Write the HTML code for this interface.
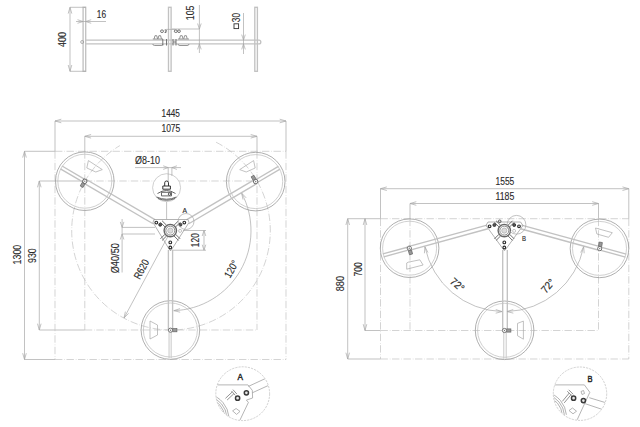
<!DOCTYPE html>
<html><head><meta charset="utf-8"><style>
html,body{margin:0;padding:0;background:#fff;width:640px;height:427px;overflow:hidden}
svg{display:block}
text{font-family:"Liberation Sans",sans-serif}
</style></head><body>
<svg width="640" height="427" viewBox="0 0 640 427">
<rect width="640" height="427" fill="#fff"/>
<rect x="83.10" y="7.3" width="2.6" height="64.00" stroke="#c2c2c2" stroke-width="1.35" fill="none"/>
<rect x="168.50" y="7.3" width="2.6" height="64.00" stroke="#c2c2c2" stroke-width="1.35" fill="none"/>
<rect x="254.80" y="7.3" width="2.6" height="64.00" stroke="#c2c2c2" stroke-width="1.35" fill="none"/>
<path d="M85.7,40.1 H259 Q260.8,40.1 260.8,42 Q260.8,43.9 259,43.9 H85.7" stroke="#c2c2c2" stroke-width="1.35" fill="none"/>
<circle cx="82.20" cy="42.00" r="1.50" stroke="#9a9a9a" stroke-width="0.8" fill="none"/>
<line x1="70.00" y1="7.30" x2="70.00" y2="71.30" stroke="#a8a8a8" stroke-width="0.7" fill="none"/>
<polyline points="71.80,13.60 70.00,7.30 68.20,13.60" stroke="#a8a8a8" stroke-width="0.7" fill="none"/>
<polyline points="68.20,65.00 70.00,71.30 71.80,65.00" stroke="#a8a8a8" stroke-width="0.7" fill="none"/>
<line x1="70.00" y1="7.30" x2="86.00" y2="7.30" stroke="#a8a8a8" stroke-width="0.7" fill="none"/>
<line x1="70.00" y1="71.30" x2="86.00" y2="71.30" stroke="#a8a8a8" stroke-width="0.7" fill="none"/>
<text transform="translate(62.30,39.50) rotate(-90)" x="0" y="3.76" text-anchor="middle" font-size="10.6" font-weight="normal" fill="#2a2a2a" stroke="#2a2a2a" stroke-width="0.12" textLength="15.00" lengthAdjust="spacingAndGlyphs">400</text>
<line x1="76.00" y1="21.50" x2="106.00" y2="21.50" stroke="#a8a8a8" stroke-width="0.7" fill="none"/>
<polyline points="77.50,23.30 83.00,21.50 77.50,19.70" stroke="#a8a8a8" stroke-width="0.7" fill="none"/>
<polyline points="91.20,19.70 85.70,21.50 91.20,23.30" stroke="#a8a8a8" stroke-width="0.7" fill="none"/>
<text transform="translate(101.50,13.80) rotate(0)" x="0" y="3.76" text-anchor="middle" font-size="10.6" font-weight="normal" fill="#2a2a2a" stroke="#2a2a2a" stroke-width="0.12" textLength="9.30" lengthAdjust="spacingAndGlyphs">16</text>
<line x1="199.40" y1="5.00" x2="199.40" y2="53.00" stroke="#a8a8a8" stroke-width="0.7" fill="none"/>
<polyline points="197.60,23.50 199.40,29.00 201.20,23.50" stroke="#a8a8a8" stroke-width="0.7" fill="none"/>
<polyline points="201.20,49.40 199.40,43.90 197.60,49.40" stroke="#a8a8a8" stroke-width="0.7" fill="none"/>
<line x1="172.00" y1="29.00" x2="199.40" y2="29.00" stroke="#a8a8a8" stroke-width="0.7" fill="none"/>
<text transform="translate(190.10,12.85) rotate(-90)" x="0" y="3.76" text-anchor="middle" font-size="10.6" font-weight="normal" fill="#2a2a2a" stroke="#2a2a2a" stroke-width="0.12" textLength="14.70" lengthAdjust="spacingAndGlyphs">105</text>
<line x1="243.50" y1="13.00" x2="243.50" y2="54.00" stroke="#a8a8a8" stroke-width="0.7" fill="none"/>
<polyline points="241.70,34.60 243.50,40.10 245.30,34.60" stroke="#a8a8a8" stroke-width="0.7" fill="none"/>
<polyline points="245.30,49.40 243.50,43.90 241.70,49.40" stroke="#a8a8a8" stroke-width="0.7" fill="none"/>
<text transform="translate(236.30,17.50) rotate(-90)" x="0" y="3.76" text-anchor="middle" font-size="10.6" font-weight="normal" fill="#2a2a2a" stroke="#2a2a2a" stroke-width="0.12" textLength="9.30" lengthAdjust="spacingAndGlyphs">30</text>
<rect x="234" y="23.8" width="4.6" height="4.8" stroke="#333" stroke-width="0.9" fill="none"/>
<path d="M152.8,39 H163 M152.8,44 Q152.8,45.5 154.8,45.5 H161 Q163,45.5 163,44" stroke="#8a8a8a" stroke-width="0.9" fill="none"/>
<path d="M154.16000000000003,38.8 L154.96,35.7 H156.76000000000002 L157.56,38.8" stroke="#777" stroke-width="0.8" fill="none"/>
<path d="M158.036,38.8 L158.83599999999998,35.7 H160.636 L161.43599999999998,38.8" stroke="#777" stroke-width="0.8" fill="none"/>
<path d="M178,39 H189 M178,44 Q178,45.5 180,45.5 H187 Q189,45.5 189,44" stroke="#8a8a8a" stroke-width="0.9" fill="none"/>
<path d="M179.60000000000002,38.8 L180.4,35.7 H182.20000000000002 L183.0,38.8" stroke="#777" stroke-width="0.8" fill="none"/>
<path d="M183.78,38.8 L184.57999999999998,35.7 H186.38 L187.17999999999998,38.8" stroke="#777" stroke-width="0.8" fill="none"/>
<path d="M162.8,39 V45.5 M166.5,39 V45.5 M173,39 V45.5 M176,39 V45.5 M173,42 H176" stroke="#6a6a6a" stroke-width="0.9" fill="none"/>
<line x1="166.00" y1="29.40" x2="175.00" y2="29.40" stroke="#a8a8a8" stroke-width="0.7" fill="none"/>
<g stroke="#555" stroke-width="0.8" fill="none"><ellipse cx="162" cy="31.2" rx="1.5" ry="1.3"/><path d="M164.6,30 q1.8,-0.5 1.8,0.6 q0,0.6 -1,0.6 q1.1,0 1.1,0.7 q0,1 -1.9,0.6"/></g>
<g stroke="#555" stroke-width="0.8" fill="none"><ellipse cx="175.8" cy="31.2" rx="1.5" ry="1.3"/><ellipse cx="179" cy="31.2" rx="1.4" ry="1.3"/></g>
<line x1="24.50" y1="151.30" x2="55.00" y2="151.30" stroke="#a8a8a8" stroke-width="0.7" fill="none"/>
<line x1="55.00" y1="151.30" x2="286.00" y2="151.30" stroke="#c2c2c2" stroke-width="0.7" fill="none" stroke-dasharray="7.4 1.9 0.6 1.6"/>
<line x1="39.30" y1="181.00" x2="84.80" y2="181.00" stroke="#a8a8a8" stroke-width="0.7" fill="none"/>
<line x1="84.80" y1="181.00" x2="257.00" y2="181.00" stroke="#c2c2c2" stroke-width="0.7" fill="none" stroke-dasharray="7.4 1.9 0.6 1.6"/>
<line x1="39.30" y1="330.00" x2="84.80" y2="330.00" stroke="#a8a8a8" stroke-width="0.7" fill="none"/>
<line x1="84.80" y1="330.00" x2="257.00" y2="330.00" stroke="#c2c2c2" stroke-width="0.7" fill="none" stroke-dasharray="7.4 1.9 0.6 1.6"/>
<line x1="24.50" y1="359.50" x2="55.00" y2="359.50" stroke="#a8a8a8" stroke-width="0.7" fill="none"/>
<line x1="55.00" y1="359.50" x2="286.00" y2="359.50" stroke="#c2c2c2" stroke-width="0.7" fill="none" stroke-dasharray="7.4 1.9 0.6 1.6"/>
<line x1="55.00" y1="121.00" x2="55.00" y2="151.30" stroke="#a8a8a8" stroke-width="0.7" fill="none"/>
<line x1="286.00" y1="121.00" x2="286.00" y2="151.30" stroke="#a8a8a8" stroke-width="0.7" fill="none"/>
<line x1="84.80" y1="136.30" x2="84.80" y2="151.30" stroke="#a8a8a8" stroke-width="0.7" fill="none"/>
<line x1="257.00" y1="136.30" x2="257.00" y2="151.30" stroke="#a8a8a8" stroke-width="0.7" fill="none"/>
<line x1="55.00" y1="151.30" x2="55.00" y2="359.50" stroke="#c2c2c2" stroke-width="0.7" fill="none" stroke-dasharray="7.4 1.9 0.6 1.6"/>
<line x1="286.00" y1="151.30" x2="286.00" y2="359.50" stroke="#c2c2c2" stroke-width="0.7" fill="none" stroke-dasharray="7.4 1.9 0.6 1.6"/>
<line x1="84.80" y1="151.30" x2="84.80" y2="330.00" stroke="#c2c2c2" stroke-width="0.7" fill="none" stroke-dasharray="7.4 1.9 0.6 1.6"/>
<line x1="257.00" y1="151.30" x2="257.00" y2="330.00" stroke="#c2c2c2" stroke-width="0.7" fill="none" stroke-dasharray="7.4 1.9 0.6 1.6"/>
<line x1="55.00" y1="121.00" x2="286.00" y2="121.00" stroke="#a8a8a8" stroke-width="0.7" fill="none"/>
<polyline points="61.30,119.20 55.00,121.00 61.30,122.80" stroke="#a8a8a8" stroke-width="0.7" fill="none"/>
<polyline points="279.70,122.80 286.00,121.00 279.70,119.20" stroke="#a8a8a8" stroke-width="0.7" fill="none"/>
<text transform="translate(170.70,113.15) rotate(0)" x="0" y="3.76" text-anchor="middle" font-size="10.6" font-weight="normal" fill="#2a2a2a" stroke="#2a2a2a" stroke-width="0.12" textLength="18.30" lengthAdjust="spacingAndGlyphs">1445</text>
<line x1="84.80" y1="136.30" x2="257.00" y2="136.30" stroke="#a8a8a8" stroke-width="0.7" fill="none"/>
<polyline points="91.10,134.50 84.80,136.30 91.10,138.10" stroke="#a8a8a8" stroke-width="0.7" fill="none"/>
<polyline points="250.70,138.10 257.00,136.30 250.70,134.50" stroke="#a8a8a8" stroke-width="0.7" fill="none"/>
<text transform="translate(170.85,128.55) rotate(0)" x="0" y="3.76" text-anchor="middle" font-size="10.6" font-weight="normal" fill="#2a2a2a" stroke="#2a2a2a" stroke-width="0.12" textLength="18.90" lengthAdjust="spacingAndGlyphs">1075</text>
<line x1="24.50" y1="151.30" x2="24.50" y2="359.50" stroke="#a8a8a8" stroke-width="0.7" fill="none"/>
<polyline points="26.30,157.60 24.50,151.30 22.70,157.60" stroke="#a8a8a8" stroke-width="0.7" fill="none"/>
<polyline points="22.70,353.20 24.50,359.50 26.30,353.20" stroke="#a8a8a8" stroke-width="0.7" fill="none"/>
<text transform="translate(16.85,254.60) rotate(-90)" x="0" y="3.76" text-anchor="middle" font-size="10.6" font-weight="normal" fill="#2a2a2a" stroke="#2a2a2a" stroke-width="0.12" textLength="19.60" lengthAdjust="spacingAndGlyphs">1300</text>
<line x1="39.30" y1="181.00" x2="39.30" y2="330.00" stroke="#a8a8a8" stroke-width="0.7" fill="none"/>
<polyline points="41.10,187.30 39.30,181.00 37.50,187.30" stroke="#a8a8a8" stroke-width="0.7" fill="none"/>
<polyline points="37.50,323.70 39.30,330.00 41.10,323.70" stroke="#a8a8a8" stroke-width="0.7" fill="none"/>
<text transform="translate(32.20,255.60) rotate(-90)" x="0" y="3.76" text-anchor="middle" font-size="10.6" font-weight="normal" fill="#2a2a2a" stroke="#2a2a2a" stroke-width="0.12" textLength="14.70" lengthAdjust="spacingAndGlyphs">930</text>
<path d="M216.08,142.22 A99.30,99.30 0 1 1 119.86,145.58" stroke="#c2c2c2" stroke-width="0.7" fill="none" stroke-dasharray="7.4 1.9 0.6 1.6"/>
<path d="M241.64,193.14 A80.00,80.00 0 0 1 173.79,310.65" stroke="#a8a8a8" stroke-width="0.7" fill="none"/>
<polyline points="246.18,197.86 241.64,193.14 243.00,199.55" stroke="#a8a8a8" stroke-width="0.7" fill="none"/>
<polyline points="180.03,308.63 173.79,310.65 180.15,312.23" stroke="#a8a8a8" stroke-width="0.7" fill="none"/>
<text transform="translate(231.20,269.00) rotate(-60)" x="0" y="3.76" text-anchor="middle" font-size="10.6" font-weight="normal" fill="#2a2a2a" stroke="#2a2a2a" stroke-width="0.12" textLength="18.00" lengthAdjust="spacingAndGlyphs">120°</text>
<line x1="171.00" y1="230.70" x2="124.00" y2="318.00" stroke="#a8a8a8" stroke-width="0.7" fill="none"/>
<polyline points="125.40,311.60 124.00,318.00 128.57,313.31" stroke="#a8a8a8" stroke-width="0.7" fill="none"/>
<text transform="translate(141.30,269.10) rotate(-62)" x="0" y="3.76" text-anchor="middle" font-size="10.6" font-weight="normal" fill="#2a2a2a" stroke="#2a2a2a" stroke-width="0.12" textLength="20.50" lengthAdjust="spacingAndGlyphs">R620</text>
<line x1="122.10" y1="219.00" x2="122.10" y2="272.50" stroke="#a8a8a8" stroke-width="0.7" fill="none"/>
<polyline points="120.30,221.90 122.10,227.40 123.90,221.90" stroke="#a8a8a8" stroke-width="0.7" fill="none"/>
<polyline points="123.90,239.50 122.10,234.00 120.30,239.50" stroke="#a8a8a8" stroke-width="0.7" fill="none"/>
<line x1="122.10" y1="227.40" x2="155.00" y2="227.40" stroke="#a8a8a8" stroke-width="0.7" fill="none"/>
<line x1="122.10" y1="234.00" x2="155.00" y2="234.00" stroke="#a8a8a8" stroke-width="0.7" fill="none"/>
<text transform="translate(115.00,258.20) rotate(-90)" x="0" y="3.76" text-anchor="middle" font-size="10.6" font-weight="normal" fill="#2a2a2a" stroke="#2a2a2a" stroke-width="0.12" textLength="30.30" lengthAdjust="spacingAndGlyphs">Ø40/50</text>
<line x1="204.00" y1="230.50" x2="204.00" y2="250.20" stroke="#a8a8a8" stroke-width="0.7" fill="none"/>
<polyline points="205.80,236.00 204.00,230.50 202.20,236.00" stroke="#a8a8a8" stroke-width="0.7" fill="none"/>
<polyline points="202.20,244.70 204.00,250.20 205.80,244.70" stroke="#a8a8a8" stroke-width="0.7" fill="none"/>
<line x1="183.00" y1="230.50" x2="206.00" y2="230.50" stroke="#a8a8a8" stroke-width="0.7" fill="none"/>
<line x1="172.00" y1="250.20" x2="206.00" y2="250.20" stroke="#a8a8a8" stroke-width="0.7" fill="none"/>
<text transform="translate(195.10,240.20) rotate(-90)" x="0" y="3.76" text-anchor="middle" font-size="10.6" font-weight="normal" fill="#2a2a2a" stroke="#2a2a2a" stroke-width="0.12" textLength="14.00" lengthAdjust="spacingAndGlyphs">120</text>
<circle cx="84.80" cy="181.20" r="29.30" stroke="#9a9a9a" stroke-width="0.8" fill="none"/>
<circle cx="84.80" cy="181.20" r="27.00" stroke="#bcbcbc" stroke-width="0.7" fill="none"/>
<circle cx="255.70" cy="181.60" r="29.30" stroke="#9a9a9a" stroke-width="0.8" fill="none"/>
<circle cx="255.70" cy="181.60" r="27.00" stroke="#bcbcbc" stroke-width="0.7" fill="none"/>
<circle cx="170.40" cy="330.00" r="29.30" stroke="#9a9a9a" stroke-width="0.8" fill="none"/>
<circle cx="170.40" cy="330.00" r="27.00" stroke="#bcbcbc" stroke-width="0.7" fill="none"/>
<line x1="155.36" y1="219.81" x2="85.96" y2="179.21" stroke="#c2c2c2" stroke-width="1.35" fill="none"/>
<line x1="153.04" y1="223.79" x2="83.64" y2="183.19" stroke="#c2c2c2" stroke-width="1.35" fill="none"/>
<line x1="85.61" y1="179.82" x2="62.04" y2="166.03" stroke="#c2c2c2" stroke-width="1.35" fill="none"/>
<line x1="83.99" y1="182.58" x2="60.43" y2="168.80" stroke="#c2c2c2" stroke-width="1.35" fill="none"/>
<line x1="188.77" y1="223.78" x2="256.87" y2="183.58" stroke="#c2c2c2" stroke-width="1.35" fill="none"/>
<line x1="186.43" y1="219.82" x2="254.53" y2="179.62" stroke="#c2c2c2" stroke-width="1.35" fill="none"/>
<line x1="256.51" y1="182.98" x2="280.02" y2="169.10" stroke="#c2c2c2" stroke-width="1.35" fill="none"/>
<line x1="254.89" y1="180.22" x2="278.40" y2="166.34" stroke="#c2c2c2" stroke-width="1.35" fill="none"/>
<line x1="168.40" y1="250.00" x2="168.40" y2="330.00" stroke="#c2c2c2" stroke-width="1.35" fill="none"/>
<line x1="172.60" y1="250.00" x2="172.60" y2="330.00" stroke="#c2c2c2" stroke-width="1.35" fill="none"/>
<line x1="169.05" y1="330.00" x2="169.05" y2="358.00" stroke="#c8c8c8" stroke-width="1" fill="none"/>
<line x1="171.15" y1="330.00" x2="171.15" y2="358.00" stroke="#c8c8c8" stroke-width="1" fill="none"/>
<polygon points="154.00,219.50 188.00,219.50 189.00,222.50 171.00,250.50 170.00,250.50 153.00,222.50" stroke="#a0a0a0" stroke-width="0.8" fill="none"/>
<line x1="166.66" y1="225.33" x2="162.06" y2="220.74" stroke="#707070" stroke-width="1" fill="none"/>
<line x1="165.03" y1="226.96" x2="160.44" y2="222.36" stroke="#707070" stroke-width="1" fill="none"/>
<line x1="175.57" y1="226.96" x2="180.16" y2="222.36" stroke="#707070" stroke-width="1" fill="none"/>
<line x1="173.94" y1="225.33" x2="178.54" y2="220.74" stroke="#707070" stroke-width="1" fill="none"/>
<line x1="173.94" y1="235.87" x2="178.54" y2="240.46" stroke="#707070" stroke-width="1" fill="none"/>
<line x1="175.57" y1="234.24" x2="180.16" y2="238.84" stroke="#707070" stroke-width="1" fill="none"/>
<line x1="165.03" y1="234.24" x2="160.44" y2="238.84" stroke="#707070" stroke-width="1" fill="none"/>
<line x1="166.66" y1="235.87" x2="162.06" y2="240.46" stroke="#707070" stroke-width="1" fill="none"/>
<circle cx="170.3" cy="230.6" r="6.2" fill="#fff" stroke="#666" stroke-width="1.4"/>
<circle cx="170.3" cy="230.6" r="4.5" fill="none" stroke="#888" stroke-width="1"/>
<circle cx="170.3" cy="230.6" r="2.6" fill="#dcdcdc" stroke="#aaa" stroke-width="0.7"/>
<circle cx="160.20" cy="224.70" r="1.5" fill="#555" stroke="#333" stroke-width="0.9"/>
<circle cx="180.40" cy="224.70" r="1.5" fill="#555" stroke="#333" stroke-width="0.9"/>
<circle cx="180.10" cy="230.90" r="1.50" stroke="#aaa" stroke-width="0.7" fill="none"/>
<circle cx="156.30" cy="222.60" r="1.35" stroke="#2c2c2c" stroke-width="1.15" fill="none"/>
<circle cx="184.30" cy="222.60" r="1.35" stroke="#2c2c2c" stroke-width="1.15" fill="none"/>
<circle cx="170.30" cy="242.40" r="1.35" stroke="#2c2c2c" stroke-width="1.15" fill="none"/>
<circle cx="170.30" cy="247.50" r="1.35" stroke="#2c2c2c" stroke-width="1.15" fill="none"/>
<circle cx="186.00" cy="221.50" r="8.00" stroke="#a8a8a8" stroke-width="0.7" fill="none"/>
<text transform="translate(184.80,211.00) rotate(0)" x="0" y="2.48" text-anchor="middle" font-size="7" font-weight="normal" fill="#2a2a2a" stroke="#2a2a2a" stroke-width="0.15" textLength="4.50" lengthAdjust="spacingAndGlyphs">A</text>
<text transform="translate(147.45,160.15) rotate(0)" x="0" y="3.76" text-anchor="middle" font-size="10.6" font-weight="normal" fill="#2a2a2a" stroke="#2a2a2a" stroke-width="0.12" textLength="24.90" lengthAdjust="spacingAndGlyphs">Ø8-10</text>
<line x1="135.00" y1="167.60" x2="181.00" y2="167.60" stroke="#a8a8a8" stroke-width="0.7" fill="none"/>
<polyline points="163.20,169.40 168.20,167.60 163.20,165.80" stroke="#a8a8a8" stroke-width="0.7" fill="none"/>
<polyline points="176.90,165.80 171.90,167.60 176.90,169.40" stroke="#a8a8a8" stroke-width="0.7" fill="none"/>
<circle cx="166.60" cy="187.70" r="14.00" stroke="#b0b0b0" stroke-width="0.6" fill="#fff"/>
<line x1="166.60" y1="201.70" x2="166.60" y2="219.50" stroke="#a8a8a8" stroke-width="0.7" fill="none"/>
<line x1="168.20" y1="167.60" x2="168.20" y2="182.00" stroke="#a8a8a8" stroke-width="0.7" fill="none"/>
<line x1="171.90" y1="167.60" x2="171.90" y2="176.00" stroke="#a8a8a8" stroke-width="0.7" fill="none"/>
<path d="M164.7,186 v-3.2 q0,-1.8 1.9,-1.8 q1.9,0 1.9,1.8 v3.2 M162.8,189.2 h7.6 v-3.2 h-7.6 z" stroke="#333" stroke-width="1" fill="none"/>
<path d="M157.5,193.5 Q166.5,187.5 175.5,193.5 M161.5,192.3 h10 v3.6 h-10 z M156.5,197 Q166.5,201.5 176.5,197 M158,198.5 Q166.5,202 175,198.5" stroke="#555" stroke-width="0.9" fill="none"/>
<circle cx="169.50" cy="194.10" r="1.20" stroke="#444" stroke-width="0.9" fill="none"/>
<polygon points="88.40,160.60 102.30,169.60 95.80,172.00 86.80,168.00" stroke="#a8a8a8" stroke-width="0.7" fill="none"/>
<polygon points="239.70,169.60 253.60,160.60 255.20,168.00 246.20,172.00" stroke="#a8a8a8" stroke-width="0.7" fill="none"/>
<polygon points="150.00,321.00 157.50,325.00 157.50,335.00 150.00,339.00" stroke="#a8a8a8" stroke-width="0.7" fill="none"/>
<g transform="translate(84.8,181.2) rotate(120)"><rect x="2.2" y="-1.6" width="4.2" height="3.2" fill="#999" stroke="#666" stroke-width="0.7"/><circle cx="0" cy="0" r="2.1" fill="#fff" stroke="#666" stroke-width="0.9"/><circle cx="0" cy="0" r="0.7" fill="#777"/></g>
<g transform="translate(255.7,181.6) rotate(-120)"><rect x="2.2" y="-1.6" width="4.2" height="3.2" fill="#999" stroke="#666" stroke-width="0.7"/><circle cx="0" cy="0" r="2.1" fill="#fff" stroke="#666" stroke-width="0.9"/><circle cx="0" cy="0" r="0.7" fill="#777"/></g>
<g transform="translate(170.5,330.2) rotate(0)"><rect x="2.2" y="-1.6" width="4.2" height="3.2" fill="#999" stroke="#666" stroke-width="0.7"/><circle cx="0" cy="0" r="2.1" fill="#fff" stroke="#666" stroke-width="0.9"/><circle cx="0" cy="0" r="0.7" fill="#777"/></g>
<line x1="347.70" y1="218.70" x2="380.50" y2="218.70" stroke="#a8a8a8" stroke-width="0.7" fill="none"/>
<line x1="380.50" y1="218.70" x2="628.80" y2="218.70" stroke="#c2c2c2" stroke-width="0.7" fill="none" stroke-dasharray="7.4 1.9 0.6 1.6"/>
<line x1="365.00" y1="330.50" x2="380.50" y2="330.50" stroke="#a8a8a8" stroke-width="0.7" fill="none"/>
<line x1="380.50" y1="330.50" x2="598.50" y2="330.50" stroke="#c2c2c2" stroke-width="0.7" fill="none" stroke-dasharray="7.4 1.9 0.6 1.6"/>
<line x1="347.70" y1="359.00" x2="380.50" y2="359.00" stroke="#a8a8a8" stroke-width="0.7" fill="none"/>
<line x1="380.50" y1="359.00" x2="628.80" y2="359.00" stroke="#c2c2c2" stroke-width="0.7" fill="none" stroke-dasharray="7.4 1.9 0.6 1.6"/>
<line x1="380.50" y1="188.70" x2="380.50" y2="218.70" stroke="#a8a8a8" stroke-width="0.7" fill="none"/>
<line x1="628.80" y1="188.70" x2="628.80" y2="218.70" stroke="#a8a8a8" stroke-width="0.7" fill="none"/>
<line x1="410.00" y1="203.50" x2="410.00" y2="218.70" stroke="#a8a8a8" stroke-width="0.7" fill="none"/>
<line x1="598.50" y1="203.50" x2="598.50" y2="218.70" stroke="#a8a8a8" stroke-width="0.7" fill="none"/>
<line x1="380.50" y1="218.70" x2="380.50" y2="359.00" stroke="#c2c2c2" stroke-width="0.7" fill="none" stroke-dasharray="7.4 1.9 0.6 1.6"/>
<line x1="628.80" y1="218.70" x2="628.80" y2="359.00" stroke="#c2c2c2" stroke-width="0.7" fill="none" stroke-dasharray="7.4 1.9 0.6 1.6"/>
<line x1="410.00" y1="218.70" x2="410.00" y2="330.50" stroke="#c2c2c2" stroke-width="0.7" fill="none" stroke-dasharray="7.4 1.9 0.6 1.6"/>
<line x1="598.50" y1="218.70" x2="598.50" y2="330.50" stroke="#c2c2c2" stroke-width="0.7" fill="none" stroke-dasharray="7.4 1.9 0.6 1.6"/>
<line x1="380.50" y1="188.70" x2="628.80" y2="188.70" stroke="#a8a8a8" stroke-width="0.7" fill="none"/>
<polyline points="386.80,186.90 380.50,188.70 386.80,190.50" stroke="#a8a8a8" stroke-width="0.7" fill="none"/>
<polyline points="622.50,190.50 628.80,188.70 622.50,186.90" stroke="#a8a8a8" stroke-width="0.7" fill="none"/>
<text transform="translate(504.90,181.00) rotate(0)" x="0" y="3.76" text-anchor="middle" font-size="10.6" font-weight="normal" fill="#2a2a2a" stroke="#2a2a2a" stroke-width="0.12" textLength="18.80" lengthAdjust="spacingAndGlyphs">1555</text>
<line x1="410.00" y1="203.50" x2="598.50" y2="203.50" stroke="#a8a8a8" stroke-width="0.7" fill="none"/>
<polyline points="416.30,201.70 410.00,203.50 416.30,205.30" stroke="#a8a8a8" stroke-width="0.7" fill="none"/>
<polyline points="592.20,205.30 598.50,203.50 592.20,201.70" stroke="#a8a8a8" stroke-width="0.7" fill="none"/>
<text transform="translate(504.90,196.10) rotate(0)" x="0" y="3.76" text-anchor="middle" font-size="10.6" font-weight="normal" fill="#2a2a2a" stroke="#2a2a2a" stroke-width="0.12" textLength="18.80" lengthAdjust="spacingAndGlyphs">1185</text>
<line x1="347.70" y1="218.70" x2="347.70" y2="359.00" stroke="#a8a8a8" stroke-width="0.7" fill="none"/>
<polyline points="349.50,225.00 347.70,218.70 345.90,225.00" stroke="#a8a8a8" stroke-width="0.7" fill="none"/>
<polyline points="345.90,352.70 347.70,359.00 349.50,352.70" stroke="#a8a8a8" stroke-width="0.7" fill="none"/>
<text transform="translate(340.20,283.60) rotate(-90)" x="0" y="3.76" text-anchor="middle" font-size="10.6" font-weight="normal" fill="#2a2a2a" stroke="#2a2a2a" stroke-width="0.12" textLength="15.20" lengthAdjust="spacingAndGlyphs">880</text>
<line x1="365.00" y1="218.70" x2="365.00" y2="330.50" stroke="#a8a8a8" stroke-width="0.7" fill="none"/>
<polyline points="366.80,225.00 365.00,218.70 363.20,225.00" stroke="#a8a8a8" stroke-width="0.7" fill="none"/>
<polyline points="363.20,324.20 365.00,330.50 366.80,324.20" stroke="#a8a8a8" stroke-width="0.7" fill="none"/>
<text transform="translate(357.90,269.45) rotate(-90)" x="0" y="3.76" text-anchor="middle" font-size="10.6" font-weight="normal" fill="#2a2a2a" stroke="#2a2a2a" stroke-width="0.12" textLength="14.30" lengthAdjust="spacingAndGlyphs">700</text>
<circle cx="409.60" cy="248.20" r="29.30" stroke="#9a9a9a" stroke-width="0.8" fill="none"/>
<circle cx="409.60" cy="248.20" r="27.00" stroke="#bcbcbc" stroke-width="0.7" fill="none"/>
<circle cx="599.50" cy="248.40" r="29.30" stroke="#9a9a9a" stroke-width="0.8" fill="none"/>
<circle cx="599.50" cy="248.40" r="27.00" stroke="#bcbcbc" stroke-width="0.7" fill="none"/>
<circle cx="504.60" cy="330.30" r="29.30" stroke="#9a9a9a" stroke-width="0.8" fill="none"/>
<circle cx="504.60" cy="330.30" r="27.00" stroke="#bcbcbc" stroke-width="0.7" fill="none"/>
<line x1="487.00" y1="225.07" x2="409.10" y2="246.37" stroke="#c2c2c2" stroke-width="1.35" fill="none"/>
<line x1="488.00" y1="228.73" x2="410.10" y2="250.03" stroke="#c2c2c2" stroke-width="1.35" fill="none"/>
<line x1="409.20" y1="246.75" x2="382.87" y2="253.95" stroke="#c2c2c2" stroke-width="1.35" fill="none"/>
<line x1="410.00" y1="249.65" x2="383.66" y2="256.85" stroke="#c2c2c2" stroke-width="1.35" fill="none"/>
<line x1="520.50" y1="228.73" x2="599.00" y2="250.23" stroke="#c2c2c2" stroke-width="1.35" fill="none"/>
<line x1="521.50" y1="225.07" x2="600.00" y2="246.57" stroke="#c2c2c2" stroke-width="1.35" fill="none"/>
<line x1="599.10" y1="249.85" x2="625.43" y2="257.06" stroke="#c2c2c2" stroke-width="1.35" fill="none"/>
<line x1="599.90" y1="246.95" x2="626.23" y2="254.16" stroke="#c2c2c2" stroke-width="1.35" fill="none"/>
<line x1="502.70" y1="250.00" x2="502.70" y2="330.00" stroke="#c2c2c2" stroke-width="1.35" fill="none"/>
<line x1="507.30" y1="250.00" x2="507.30" y2="330.00" stroke="#c2c2c2" stroke-width="1.35" fill="none"/>
<line x1="503.80" y1="330.00" x2="503.80" y2="359.00" stroke="#c8c8c8" stroke-width="1" fill="none"/>
<line x1="506.20" y1="330.00" x2="506.20" y2="359.00" stroke="#c8c8c8" stroke-width="1" fill="none"/>
<polygon points="488.00,222.00 520.50,222.00 523.00,225.50 505.00,250.30 504.00,250.30 486.00,225.50" stroke="#a0a0a0" stroke-width="0.8" fill="none"/>
<line x1="500.66" y1="225.33" x2="496.06" y2="220.74" stroke="#707070" stroke-width="1" fill="none"/>
<line x1="499.03" y1="226.96" x2="494.44" y2="222.36" stroke="#707070" stroke-width="1" fill="none"/>
<line x1="509.57" y1="226.96" x2="514.16" y2="222.36" stroke="#707070" stroke-width="1" fill="none"/>
<line x1="507.94" y1="225.33" x2="512.54" y2="220.74" stroke="#707070" stroke-width="1" fill="none"/>
<line x1="507.94" y1="235.87" x2="512.54" y2="240.46" stroke="#707070" stroke-width="1" fill="none"/>
<line x1="509.57" y1="234.24" x2="514.16" y2="238.84" stroke="#707070" stroke-width="1" fill="none"/>
<line x1="499.03" y1="234.24" x2="494.44" y2="238.84" stroke="#707070" stroke-width="1" fill="none"/>
<line x1="500.66" y1="235.87" x2="496.06" y2="240.46" stroke="#707070" stroke-width="1" fill="none"/>
<circle cx="504.3" cy="230.6" r="6.2" fill="#fff" stroke="#666" stroke-width="1.4"/>
<circle cx="504.3" cy="230.6" r="4.5" fill="none" stroke="#888" stroke-width="1"/>
<circle cx="504.3" cy="230.6" r="2.6" fill="#dcdcdc" stroke="#aaa" stroke-width="0.7"/>
<circle cx="494.40" cy="225.00" r="1.5" fill="#555" stroke="#333" stroke-width="0.9"/>
<circle cx="514.20" cy="225.00" r="1.5" fill="#555" stroke="#333" stroke-width="0.9"/>
<circle cx="514.10" cy="230.90" r="1.50" stroke="#aaa" stroke-width="0.7" fill="none"/>
<circle cx="489.60" cy="226.30" r="1.35" stroke="#2c2c2c" stroke-width="1.15" fill="none"/>
<circle cx="519.00" cy="226.30" r="1.35" stroke="#2c2c2c" stroke-width="1.15" fill="none"/>
<circle cx="504.30" cy="242.40" r="1.35" stroke="#2c2c2c" stroke-width="1.15" fill="none"/>
<circle cx="504.30" cy="247.50" r="1.35" stroke="#2c2c2c" stroke-width="1.15" fill="none"/>
<circle cx="499.70" cy="221.30" r="1.30" stroke="#555" stroke-width="1" fill="none"/>
<circle cx="516.50" cy="224.80" r="9.40" stroke="#a8a8a8" stroke-width="0.7" fill="none"/>
<text transform="translate(524.00,238.35) rotate(0)" x="0" y="2.48" text-anchor="middle" font-size="7" font-weight="normal" fill="#2a2a2a" stroke="#2a2a2a" stroke-width="0.15" textLength="4.00" lengthAdjust="spacingAndGlyphs">B</text>
<path d="M502.04,311.57 A81.00,81.00 0 0 1 424.93,246.75" stroke="#a8a8a8" stroke-width="0.7" fill="none"/>
<path d="M583.67,246.75 A81.00,81.00 0 0 1 506.99,311.56" stroke="#a8a8a8" stroke-width="0.7" fill="none"/>
<polyline points="427.95,252.56 424.93,246.75 424.42,253.28" stroke="#a8a8a8" stroke-width="0.7" fill="none"/>
<polyline points="495.69,313.19 502.04,311.57 495.79,309.59" stroke="#a8a8a8" stroke-width="0.7" fill="none"/>
<polyline points="584.18,253.28 583.67,246.75 580.65,252.56" stroke="#a8a8a8" stroke-width="0.7" fill="none"/>
<polyline points="513.22,309.55 506.99,311.56 513.34,313.15" stroke="#a8a8a8" stroke-width="0.7" fill="none"/>
<text transform="translate(457.40,284.60) rotate(42)" x="0" y="3.76" text-anchor="middle" font-size="10.6" font-weight="normal" fill="#2a2a2a" stroke="#2a2a2a" stroke-width="0.2" textLength="15.00" lengthAdjust="spacingAndGlyphs">72°</text>
<text transform="translate(547.90,285.80) rotate(-48)" x="0" y="3.76" text-anchor="middle" font-size="10.6" font-weight="normal" fill="#2a2a2a" stroke="#2a2a2a" stroke-width="0.2" textLength="15.00" lengthAdjust="spacingAndGlyphs">72°</text>
<polygon points="408.10,262.20 419.80,259.80 423.10,265.00 406.70,269.20 406.70,263.00" stroke="#a8a8a8" stroke-width="0.7" fill="none"/>
<polygon points="595.50,228.00 612.30,232.70 608.60,237.30 596.90,234.00" stroke="#a8a8a8" stroke-width="0.7" fill="none"/>
<polygon points="517.50,323.40 523.40,321.10 523.40,339.20 517.50,335.70" stroke="#a8a8a8" stroke-width="0.7" fill="none"/>
<g transform="translate(409.3,248.2) rotate(74)"><rect x="2.2" y="-1.6" width="4.2" height="3.2" fill="#999" stroke="#666" stroke-width="0.7"/><circle cx="0" cy="0" r="2.1" fill="#fff" stroke="#666" stroke-width="0.9"/><circle cx="0" cy="0" r="0.7" fill="#777"/></g>
<g transform="translate(599.7,248.6) rotate(-80)"><rect x="2.2" y="-1.6" width="4.2" height="3.2" fill="#999" stroke="#666" stroke-width="0.7"/><circle cx="0" cy="0" r="2.1" fill="#fff" stroke="#666" stroke-width="0.9"/><circle cx="0" cy="0" r="0.7" fill="#777"/></g>
<g transform="translate(504.5,330.5) rotate(0)"><rect x="2.2" y="-1.6" width="4.2" height="3.2" fill="#999" stroke="#666" stroke-width="0.7"/><circle cx="0" cy="0" r="2.1" fill="#fff" stroke="#666" stroke-width="0.9"/><circle cx="0" cy="0" r="0.7" fill="#777"/></g>
<defs><clipPath id="ca"><circle cx="242.7" cy="393.7" r="26.6"/></clipPath><clipPath id="cb"><circle cx="580" cy="393.7" r="26.4"/></clipPath></defs>
<circle cx="242.70" cy="393.70" r="26.90" stroke="#b4b4b4" stroke-width="0.6" fill="none" stroke-dasharray="2.2 1"/>
<g clip-path="url(#ca)">
<polyline points="210.00,384.90 247.90,384.90 252.30,390.30 252.60,398.00 246.40,400.10 248.40,402.40 239.50,421.00" stroke="#9c9c9c" stroke-width="0.75" fill="none"/>
<line x1="248.40" y1="386.40" x2="272.00" y2="375.50" stroke="#9c9c9c" stroke-width="0.75" fill="none"/>
<line x1="252.30" y1="392.80" x2="276.00" y2="382.00" stroke="#9c9c9c" stroke-width="0.75" fill="none"/>
<circle cx="246.40" cy="392.80" r="2.10" stroke="#3a3a3a" stroke-width="1.5" fill="#e8e8e8"/>
<circle cx="237.60" cy="398.20" r="2.10" stroke="#3a3a3a" stroke-width="1.5" fill="#e8e8e8"/>
<line x1="227.12" y1="400.07" x2="233.92" y2="393.67" stroke="#777" stroke-width="0.8" fill="none"/>
<line x1="225.48" y1="398.33" x2="232.28" y2="391.93" stroke="#777" stroke-width="0.8" fill="none"/>
<line x1="231.45" y1="390.96" x2="235.35" y2="395.36" stroke="#777" stroke-width="0.8" fill="none"/>
<line x1="232.95" y1="389.64" x2="236.85" y2="394.04" stroke="#777" stroke-width="0.8" fill="none"/>
<path d="M209.06,398.23 A21.50,21.50 0 0 1 224.92,417.13" stroke="#999" stroke-width="0.75" fill="none"/>
<path d="M209.58,396.30 A23.50,23.50 0 0 1 226.91,416.95" stroke="#999" stroke-width="0.75" fill="none"/>
<path d="M210.10,394.37 A25.50,25.50 0 0 1 228.90,416.78" stroke="#999" stroke-width="0.75" fill="none"/>
<polygon points="232.60,410.90 236.10,408.50 240.00,411.40 236.60,414.40" stroke="#9c9c9c" stroke-width="0.75" fill="none"/>
</g>
<text transform="translate(240.35,376.45) rotate(0)" x="0" y="3.27" text-anchor="middle" font-size="9.2" font-weight="normal" fill="#2a2a2a" stroke="#2a2a2a" stroke-width="0.45" textLength="5.50" lengthAdjust="spacingAndGlyphs">A</text>
<circle cx="580.00" cy="393.70" r="26.70" stroke="#b4b4b4" stroke-width="0.6" fill="none" stroke-dasharray="2.2 1"/>
<g clip-path="url(#cb)">
<polyline points="550.00,384.90 584.40,384.90 589.80,392.30 576.60,421.00" stroke="#9c9c9c" stroke-width="0.75" fill="none"/>
<line x1="589.30" y1="397.70" x2="610.00" y2="404.00" stroke="#9c9c9c" stroke-width="0.75" fill="none"/>
<line x1="584.90" y1="403.60" x2="610.00" y2="412.00" stroke="#9c9c9c" stroke-width="0.75" fill="none"/>
<circle cx="573.60" cy="398.20" r="2.10" stroke="#3a3a3a" stroke-width="1.5" fill="#e8e8e8"/>
<circle cx="583.40" cy="400.60" r="2.10" stroke="#3a3a3a" stroke-width="1.5" fill="#e8e8e8"/>
<line x1="564.22" y1="402.87" x2="571.12" y2="394.57" stroke="#777" stroke-width="0.8" fill="none"/>
<line x1="562.38" y1="401.33" x2="569.28" y2="393.03" stroke="#777" stroke-width="0.8" fill="none"/>
<line x1="567.29" y1="391.21" x2="571.79" y2="395.71" stroke="#777" stroke-width="0.8" fill="none"/>
<line x1="568.71" y1="389.79" x2="573.21" y2="394.29" stroke="#777" stroke-width="0.8" fill="none"/>
<path d="M546.56,396.23 A21.50,21.50 0 0 1 562.42,415.13" stroke="#999" stroke-width="0.75" fill="none"/>
<path d="M547.08,394.30 A23.50,23.50 0 0 1 564.41,414.95" stroke="#999" stroke-width="0.75" fill="none"/>
<path d="M547.60,392.37 A25.50,25.50 0 0 1 566.40,414.78" stroke="#999" stroke-width="0.75" fill="none"/>
<polygon points="581.00,391.50 583.50,390.50 584.50,393.50 582.00,394.50" stroke="#9c9c9c" stroke-width="0.75" fill="none"/>
<polygon points="569.00,410.50 572.50,408.00 576.50,411.20 573.00,413.80" stroke="#9c9c9c" stroke-width="0.75" fill="none"/>
</g>
<text transform="translate(590.00,379.20) rotate(0)" x="0" y="3.27" text-anchor="middle" font-size="9.2" font-weight="normal" fill="#2a2a2a" stroke="#2a2a2a" stroke-width="0.45" textLength="5.00" lengthAdjust="spacingAndGlyphs">B</text>
</svg>
</body></html>
